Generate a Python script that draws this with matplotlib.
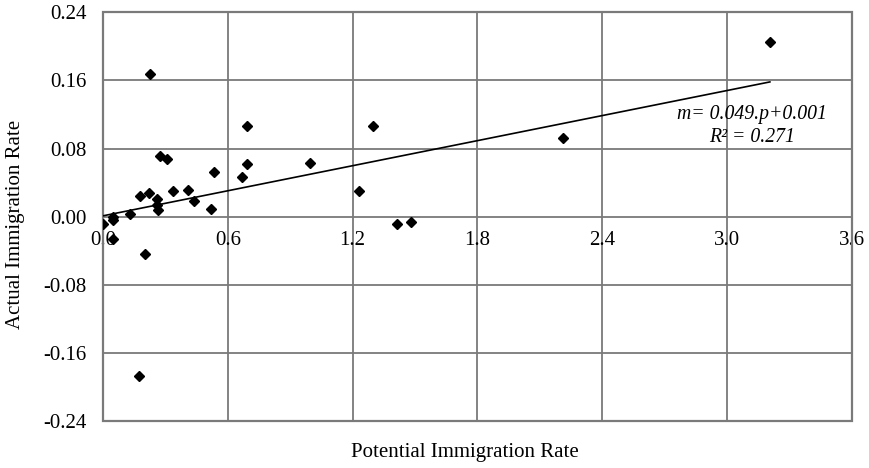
import numpy as np
import matplotlib
matplotlib.use("Agg")
from matplotlib import pyplot as plt
from matplotlib.patches import Rectangle

# potential vs actual immigration rate
potential = [0.226, 0.694, 0.274, 0.309, 0.534, 0.694, 0.668, 0.178, 0.220, 0.338,
             0.407, 0.261, 0.436, 0.258, 0.266, 0.518, 0.130, 0.047, 0.047, 0.001,
             0.050, 0.202, 0.173, 0.995, 1.300, 1.229, 1.415, 1.482, 3.207, 2.213]
actual = [0.167, 0.106, 0.071, 0.068, 0.053, 0.062, 0.047, 0.024, 0.028, 0.030,
          0.031, 0.021, 0.018, 0.014, 0.008, 0.009, 0.003, 0.000, -0.004, -0.009,
          -0.026, -0.044, -0.187, 0.063, 0.106, 0.030, -0.009, -0.006, 0.205, 0.092]

slope, intercept = 0.049, 0.001
x_ticks = [0.0, 0.6, 1.2, 1.8, 2.4, 3.0, 3.6]
y_ticks = [-0.24, -0.16, -0.08, 0.00, 0.08, 0.16, 0.24]
x_labels = ["0.0", "0.6", "1.2", "1.8", "2.4", "3.0", "3.6"]
y_labels = ["-0.24", "-0.16", "-0.08", "0.00", "0.08", "0.16", "0.24"]

plt.rcParams["font.family"] = ["Liberation Serif", "DejaVu Serif"]
grey = "#7a7a7a"

fig = plt.figure(figsize=(8.69, 4.68), dpi=100)
ax = fig.add_axes([0.1185, 0.100, 0.8615, 0.874])

ax.set_xlim(0, 3.6)
ax.set_ylim(-0.24, 0.24)
ax.set_xticks(x_ticks)
ax.set_xticklabels(x_labels)
ax.set_yticks(y_ticks)
ax.set_yticklabels(y_labels)
ax.grid(True, color=grey, lw=1.3)
ax.set_axisbelow(True)

# x tick labels sit under the zero line
ax.spines["bottom"].set_position(("data", 0))
for s in ax.spines.values():
    s.set_visible(False)
ax.add_patch(Rectangle((0, 0), 1, 1, transform=ax.transAxes, fill=False,
                       edgecolor=grey, lw=1.6, clip_on=False, zorder=3))
ax.tick_params(axis="both", length=0, labelsize=15, colors="black")
ax.tick_params(axis="x", pad=10)
ax.tick_params(axis="y", pad=12)

fit_x = np.array([0.0, max(potential)])
ax.plot(fit_x, slope * fit_x + intercept, color="black", lw=1.2, zorder=4)
ax.plot(potential, actual, "D", color="black", ms=4.8, zorder=5)

ax.text(3.12, 0.1065, "m= 0.049.p+0.001\nR² = 0.271", style="italic",
        fontsize=14.2, ha="center", va="center", multialignment="center",
        linespacing=1.25, zorder=6)

fig.text(0.535, 0.034, "Potential Immigration Rate", ha="center", va="center", fontsize=15)
fig.text(0.018, 0.521, "Actual Immigration Rate", ha="center", va="center",
         rotation=90, fontsize=15)

fig.savefig("out.png", dpi=100)
